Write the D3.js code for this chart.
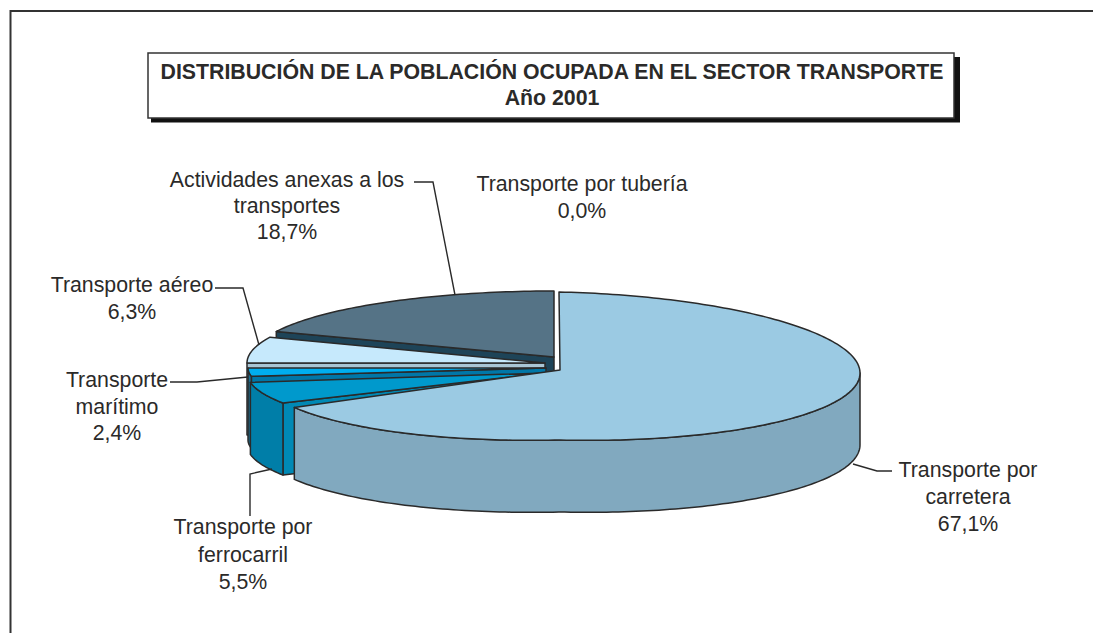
<!DOCTYPE html>
<html><head><meta charset="utf-8">
<style>html,body{margin:0;padding:0;background:#fff}svg{display:block}text{font-family:"Liberation Sans",Arial,sans-serif;fill:#2b2a29}</style>
<script src="https://cdn.jsdelivr.net/npm/d3@7/dist/d3.min.js"></script>
</head><body><svg id="c" width="1093" height="633"></svg>
<script>
const categories = ["Transporte por carretera","Transporte por ferrocarril","Transporte marítimo","Transporte aéreo","Actividades anexas a los transportes","Transporte por tubería"];
const values = [67.1,5.5,2.4,6.3,18.7,0.0];
const titleLines = ["DISTRIBUCIÓN DE LA POBLACIÓN OCUPADA EN EL SECTOR TRANSPORTE","Año 2001"];
const labelLines = [["Transporte por","carretera","67,1%"],["Transporte por","ferrocarril","5,5%"],["Transporte","marítimo","2,4%"],["Transporte aéreo","6,3%"],["Actividades anexas a los","transportes","18,7%"],["Transporte por tubería","0,0%"]];
const topColors = ["#9bcae3","#0099cc","#00aeef","#c6e9fc","#557386","#557386"];
const outerColors = ["#81a9bf","#007ea8","#1b6f92","#a9c6d5","#1e4458","#1e4458"];
const radialColors = ["#81a9bf","#0089b5","#0077a8","#a9c6d5","#1e4458","#1e4458"];

// layout: projection of each exploded slice
const layout = [
 {cx:559,cy:366,tip:370,tipX:560,rx:301,ry:74,bulge:7},
 {cx:545,cy:373,tip:373,tipX:545,rx:298,ry:63,bulge:0},
 {cx:546,cy:368,tip:368,tipX:546,rx:298,ry:55,bulge:0},
 {cx:545,cy:363,tip:363,tipX:545,rx:298,ry:67,bulge:0},
 {cx:554,cy:357,tip:357,tipX:554,rx:301,ry:66,bulge:0},
 {cx:554,cy:357,tip:357,tipX:554,rx:301,ry:66,bulge:0}
];
const depth = 72;
const labelPos = [[968,477,27],[243,534,27.5],[117,387,26.5],[132,292,27],[287,187,26],[582,191,27]];
const leaders = [
 [[892,471],[877,471],[853,464]],
 [[250,516],[250,474],[272,469]],
 [[170,382],[197,382],[248,377]],
 [[215,288],[243,288],[259,345]],
 [[414,182],[433,182],[455,295]]
];

const svg = d3.select("#c");
const stroke = "#2a2a2a";
const line = d3.line();

// frame (open on the right and bottom)
svg.append("path").attr("d",line([[1093,11],[10.5,11],[10.5,633]])).attr("fill","none").attr("stroke","#333").attr("stroke-width",2);

// title box
svg.append("rect").attr("x",151).attr("y",57).attr("width",809).attr("height",65.5).attr("fill","#111");
svg.append("rect").attr("x",148).attr("y",53).attr("width",806).attr("height",65).attr("fill","#fff").attr("stroke","#333").attr("stroke-width",1.5);
svg.selectAll("text.t").data(titleLines).join("text").attr("class","t")
  .attr("x",552).attr("y",(d,i)=>79+i*26).attr("text-anchor","middle")
  .attr("font-size",21.3).attr("font-weight","bold").text(d=>d);

const arcs = d3.pie().sort(null).startAngle(0).endAngle(2*Math.PI)(values);
function project(a,l,dz=0){
  return [l.cx+l.rx*Math.sin(a), l.cy-l.ry*Math.cos(a)+l.bulge*Math.abs(Math.sin(a))+dz];
}
function arcPts(a0,a1,l,dz=0){
  const n=Math.max(2,Math.ceil((a1-a0)/0.02));
  return d3.range(n+1).map(i=>project(a0+(a1-a0)*i/n,l,dz));
}
// paint back to front: anexas, aéreo, marítimo, ferrocarril, carretera
const order = d3.range(arcs.length).filter(i=>arcs[i].value>0).reverse();
order.forEach(i=>{
  const s=arcs[i], l=layout[i], g=svg.append("g").attr("class","slice");
  const T=[l.tipX,l.tip];
  // radial wall on the start edge (faces the viewer for all but the first)
  if(i>0){
    const c=project(s.startAngle,l);
    g.append("path").attr("d",line([T,c,[c[0],c[1]+depth],[T[0],T[1]+depth]])+"Z")
      .attr("fill",radialColors[i]).attr("stroke",stroke).attr("stroke-width",1.5).attr("stroke-linejoin","round");
  }
  // outer wall: only the front half
  const a0=Math.max(s.startAngle,Math.PI/2), a1=Math.min(s.endAngle,3*Math.PI/2);
  if(a1>a0){
    const up=arcPts(a0,a1,l), dn=arcPts(a0,a1,l,depth).reverse();
    g.append("path").attr("d",line(up.concat(dn))+"Z")
      .attr("fill",outerColors[i]).attr("stroke",stroke).attr("stroke-width",1.5).attr("stroke-linejoin","round");
  }
  // top
  g.append("path").attr("d",line([T].concat(arcPts(s.startAngle,s.endAngle,l)))+"Z")
    .attr("fill",topColors[i]).attr("stroke",stroke).attr("stroke-width",1.5).attr("stroke-linejoin","round");
});

// leader lines
svg.selectAll("path.leader").data(leaders).join("path").attr("class","leader")
  .attr("d",d=>line(d)).attr("fill","none").attr("stroke",stroke).attr("stroke-width",1.4);

// labels
labelLines.forEach((ls,i)=>{
  const [x,y,dy]=labelPos[i];
  svg.selectAll(null).data(ls).join("text").attr("x",x).attr("y",(d,j)=>y+j*dy)
    .attr("text-anchor","middle").attr("font-size",21.3).text(d=>d);
});
</script></body></html>
